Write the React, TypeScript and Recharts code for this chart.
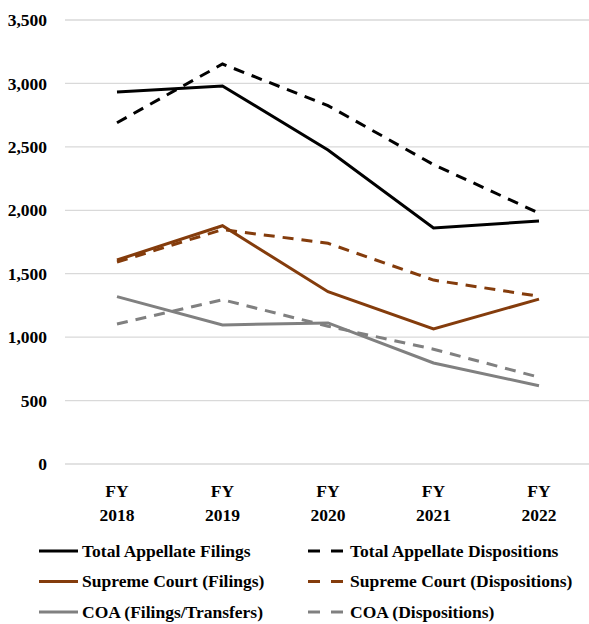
import { LineChart, Line, XAxis, YAxis, CartesianGrid, Legend } from "recharts";

const years = ["FY 2018", "FY 2019", "FY 2020", "FY 2021", "FY 2022"];
const totalFilings = [2932, 2980, 2475, 1860, 1915];
const totalDispositions = [2690, 3153, 2825, 2360, 1978];
const supremeFilings = [1608, 1878, 1358, 1064, 1300];
const supremeDispositions = [1592, 1848, 1740, 1450, 1322];
const coaFilings = [1319, 1096, 1112, 796, 617];
const coaDispositions = [1104, 1295, 1086, 905, 684];
const yTicks = [0, 500, 1000, 1500, 2000, 2500, 3000, 3500];

const BROWN = "#843C0C";
const GRAY = "#808080";
const FONT = "Liberation Serif, Times New Roman, serif";
const FS = 17.5;

const series = [
  { key: "tf", name: "Total Appellate Filings", color: "#000", dash: undefined, values: totalFilings },
  { key: "td", name: "Total Appellate Dispositions", color: "#000", dash: "11 8", values: totalDispositions },
  { key: "sf", name: "Supreme Court (Filings)", color: BROWN, dash: undefined, values: supremeFilings },
  { key: "sd", name: "Supreme Court (Dispositions)", color: BROWN, dash: "11 8", values: supremeDispositions },
  { key: "cf", name: "COA (Filings/Transfers)", color: GRAY, dash: undefined, values: coaFilings },
  { key: "cd", name: "COA (Dispositions)", color: GRAY, dash: "11 8", values: coaDispositions },
];

const data = years.map((y, i) => {
  const row: Record<string, string | number> = { year: y };
  series.forEach((s) => (row[s.key] = s.values[i]));
  return row;
});

const fmt = (v: number) => v.toLocaleString("en-US");

function YearTick({ x, y, payload }: any) {
  const [a, b] = String(payload.value).split(" ");
  return (
    <text x={x} y={y} textAnchor="middle" fill="#000" fontFamily={FONT} fontWeight="bold" fontSize={FS}>
      <tspan x={x} dy={31}>{a}</tspan>
      <tspan x={x} dy={24}>{b}</tspan>
    </text>
  );
}

function LegendBox() {
  const cols = [
    { lineX: 39, textX: 82 },
    { lineX: 308, textX: 350 },
  ];
  return (
    <svg width={589} height={100} style={{ display: "block" }}>
      {series.map((s, i) => {
        const c = cols[i % 2];
        const cy = 27 + Math.floor(i / 2) * 30.5;
        return (
          <g key={s.key}>
            {s.dash ? (
              <>
                <line x1={c.lineX} x2={c.lineX + 12} y1={cy} y2={cy} stroke={s.color} strokeWidth={3} />
                <line x1={c.lineX + 23} x2={c.lineX + 35} y1={cy} y2={cy} stroke={s.color} strokeWidth={3} />
              </>
            ) : (
              <line x1={c.lineX} x2={c.lineX + 39} y1={cy} y2={cy} stroke={s.color} strokeWidth={3} />
            )}
            <text x={c.textX} y={cy + 5.5} fontFamily={FONT} fontWeight="bold" fontSize={FS} fill="#000">
              {s.name}
            </text>
          </g>
        );
      })}
    </svg>
  );
}

export default function App() {
  return (
    <div style={{ position: "absolute", left: 0, top: 0, width: 589, height: 624, background: "#fff" }}>
      <LineChart width={589} height={624} data={data} margin={{ top: 20, right: -3, left: 0, bottom: 0 }}>
        <CartesianGrid vertical={false} stroke="#d9d9d9" strokeWidth={1.3} />
        <XAxis
          dataKey="year"
          axisLine={false}
          tickLine={false}
          tickSize={0}
          height={60}
          interval={0}
          padding={{ left: 52, right: 53 }}
          tick={<YearTick />}
        />
        <YAxis
          domain={[0, 3500]}
          ticks={yTicks}
          axisLine={false}
          tickLine={false}
          tickSize={0}
          tickMargin={18}
          width={65}
          tickFormatter={fmt}
          tick={{ fill: "#000", fontFamily: FONT, fontWeight: "bold", fontSize: FS }}
        />
        <Legend verticalAlign="bottom" height={100} content={() => <LegendBox />} />
        {series.map((s) => (
          <Line
            key={s.key}
            dataKey={s.key}
            name={s.name}
            stroke={s.color}
            strokeWidth={3}
            strokeDasharray={s.dash}
            dot={false}
            activeDot={false}
            isAnimationActive={false}
          />
        ))}
      </LineChart>
    </div>
  );
}
